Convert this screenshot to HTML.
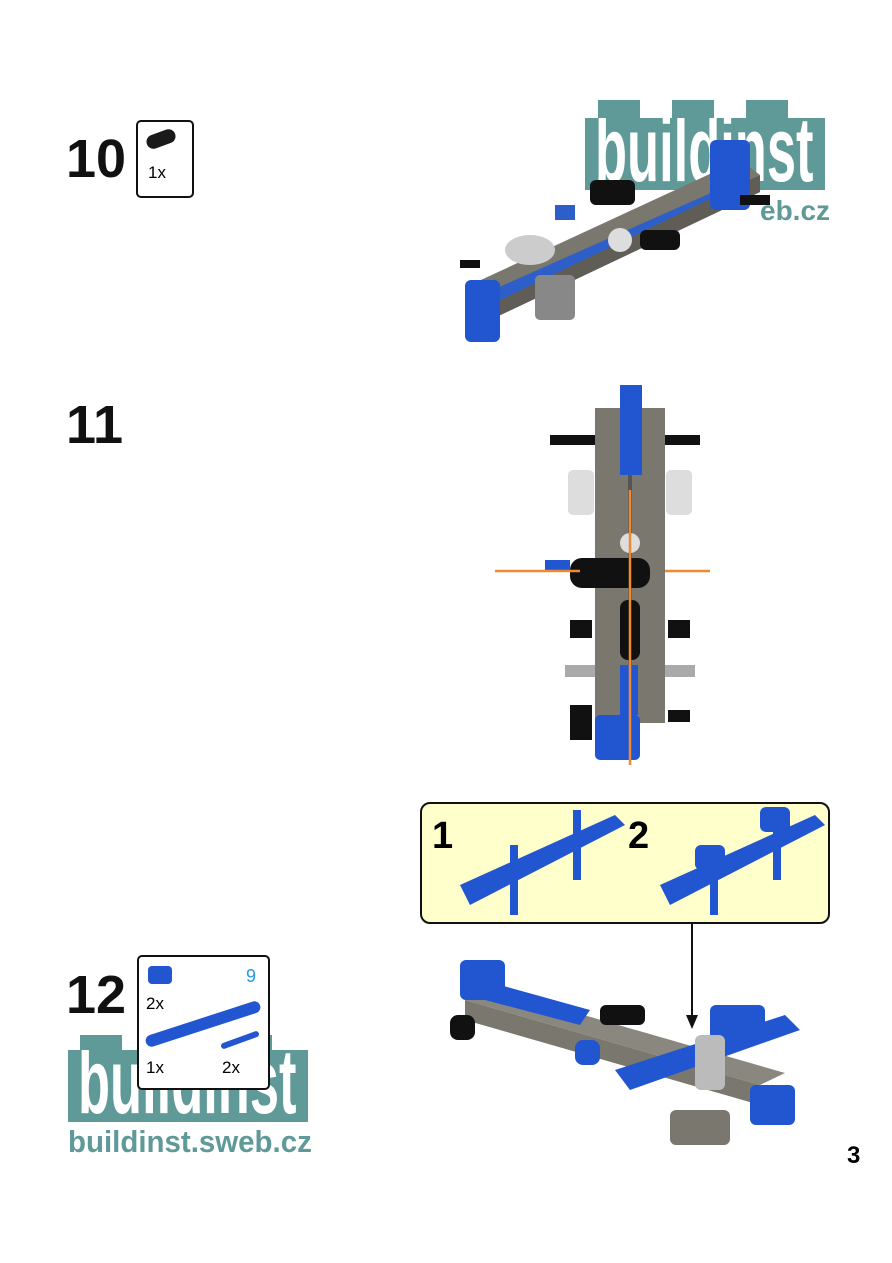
<!DOCTYPE html><html><head><style>
body{margin:0;width:892px;height:1263px;background:#fff;position:relative;overflow:hidden;font-family:"Liberation Sans",sans-serif}
.a{position:absolute}
.num{font-weight:bold;font-size:54px;color:#111;line-height:1}
.box{border:2px solid #111;border-radius:5px;background:#fff}
.logo{background:#5f9a98}
.clip{overflow:hidden}
.lt{color:#fff;font-weight:bold;line-height:1;white-space:nowrap;transform-origin:left top}
</style></head><body>
<!-- step 10 -->
<div class="a num" style="left:66px;top:132px">10</div>
<div class="a box" style="left:136px;top:120px;width:54px;height:74px"></div>
<div class="a" style="left:146px;top:132px;width:30px;height:14px;background:#1a1a1a;border-radius:7px;transform:rotate(-20deg)"></div>
<div class="a" style="left:148px;top:163px;font-size:17px">1x</div>
<!-- logo top -->
<div class="a logo" style="left:585px;top:118px;width:240px;height:72px"></div>
<div class="a logo" style="left:598px;top:100px;width:42px;height:20px"></div>
<div class="a logo" style="left:672px;top:100px;width:42px;height:20px"></div>
<div class="a logo" style="left:746px;top:100px;width:42px;height:20px"></div>
<div class="a clip" style="left:595px;top:118px;width:225px;height:72px"><div class="lt" style="font-size:92px;transform:scaleX(0.57);margin-top:-14px">buildinst</div></div>
<div class="a" style="left:760px;top:195px;font-size:28px;font-weight:bold;color:#5f9a98">eb.cz</div>
<!-- model 10 -->
<svg class="a" style="left:440px;top:120px" width="370" height="230">
<polygon points="30,165 300,40 320,55 50,185" fill="#7a786e"/>
<polygon points="30,180 300,60 320,72 50,200" fill="#2e5fc9"/>
<polygon points="50,185 320,55 320,72 50,200" fill="#5f5d55"/>
<rect x="25" y="160" width="35" height="62" rx="6" fill="#2255d0"/>
<rect x="270" y="20" width="40" height="70" rx="6" fill="#2255d0"/>
<ellipse cx="90" cy="130" rx="25" ry="15" fill="#ccc"/>
<rect x="150" y="60" width="45" height="25" rx="6" fill="#111"/>
<rect x="95" y="155" width="40" height="45" rx="5" fill="#888"/>
<circle cx="180" cy="120" r="12" fill="#ddd"/>
<rect x="200" y="110" width="40" height="20" rx="6" fill="#111"/>
<rect x="115" y="85" width="20" height="15" fill="#2e5fc9"/>
<rect x="20" y="140" width="20" height="8" fill="#111"/>
<rect x="300" y="75" width="30" height="10" fill="#111"/>
</svg>
<!-- step 11 -->
<div class="a num" style="left:66px;top:398px">11</div>
<svg class="a" style="left:490px;top:380px" width="230" height="390">
<rect x="60" y="55" width="150" height="10" fill="#111"/>
<rect x="75" y="285" width="130" height="12" fill="#aaa"/>
<rect x="105" y="28" width="70" height="315" fill="#7a786e"/>
<rect x="138" y="28" width="4" height="315" fill="#555"/>
<rect x="130" y="5" width="22" height="90" fill="#2255d0"/>
<rect x="78" y="90" width="26" height="45" rx="5" fill="#ddd"/>
<rect x="176" y="90" width="26" height="45" rx="5" fill="#ddd"/>
<rect x="80" y="240" width="22" height="18" fill="#111"/>
<rect x="178" y="240" width="22" height="18" fill="#111"/>
<rect x="80" y="325" width="22" height="35" fill="#111"/>
<rect x="178" y="330" width="22" height="12" fill="#111"/>
<rect x="130" y="285" width="18" height="50" fill="#2255d0"/>
<rect x="105" y="335" width="45" height="45" rx="5" fill="#2255d0"/>
<rect x="80" y="178" width="80" height="30" rx="12" fill="#111"/>
<rect x="55" y="180" width="25" height="12" fill="#2255d0"/>
<circle cx="140" cy="163" r="10" fill="#ddd"/>
<rect x="130" y="220" width="20" height="60" rx="8" fill="#111"/>
<line x1="5" y1="191" x2="90" y2="191" stroke="#f08a30" stroke-width="2.5"/>
<line x1="175" y1="191" x2="220" y2="191" stroke="#f08a30" stroke-width="2.5"/>
<line x1="140" y1="110" x2="140" y2="385" stroke="#f08a30" stroke-width="2.5"/>
</svg>
<!-- callout -->
<div class="a" style="left:420px;top:802px;width:406px;height:118px;background:#ffffcc;border:2px solid #111;border-radius:10px"></div>
<div class="a" style="left:432px;top:815px;font-size:38px;font-weight:bold">1</div>
<div class="a" style="left:628px;top:815px;font-size:38px;font-weight:bold">2</div>
<svg class="a" style="left:455px;top:805px" width="370" height="110">
<polygon points="5,80 160,10 170,20 15,100" fill="#2255d0"/>
<rect x="118" y="5" width="8" height="70" fill="#2255d0"/>
<rect x="55" y="40" width="8" height="70" fill="#2255d0"/>
<polygon points="205,80 360,10 370,20 215,100" fill="#2255d0"/>
<rect x="318" y="5" width="8" height="70" fill="#2255d0"/>
<rect x="255" y="40" width="8" height="70" fill="#2255d0"/>
<rect x="240" y="40" width="30" height="25" rx="6" fill="#2255d0"/>
<rect x="305" y="2" width="30" height="25" rx="6" fill="#2255d0"/>
</svg>
<div class="a" style="left:691px;top:922px;width:2px;height:98px;background:#111"></div>
<div class="a" style="left:686px;top:1015px;width:0;height:0;border-left:6px solid transparent;border-right:6px solid transparent;border-top:14px solid #111"></div>
<!-- step 12 -->
<div class="a num" style="left:66px;top:968px">12</div>
<div class="a logo" style="left:68px;top:1050px;width:240px;height:72px"></div>
<div class="a logo" style="left:80px;top:1035px;width:42px;height:20px"></div>
<div class="a logo" style="left:155px;top:1035px;width:42px;height:20px"></div>
<div class="a logo" style="left:230px;top:1035px;width:42px;height:20px"></div>
<div class="a clip" style="left:78px;top:1050px;width:225px;height:72px"><div class="lt" style="font-size:92px;transform:scaleX(0.57);margin-top:-14px">buildinst</div></div>
<div class="a" style="left:68px;top:1124px;font-size:31px;font-weight:bold;color:#5f9a98;white-space:nowrap;transform:scaleX(0.95);transform-origin:left">buildinst.sweb.cz</div>
<div class="a box" style="left:137px;top:955px;width:129px;height:131px"></div>
<div class="a" style="left:148px;top:966px;width:24px;height:18px;background:#2255d0;border-radius:4px"></div>
<div class="a" style="left:246px;top:966px;font-size:18px;color:#1e9be0">9</div>
<div class="a" style="left:146px;top:994px;font-size:17px">2x</div>
<div class="a" style="left:143px;top:1018px;width:120px;height:12px;background:#2255d0;border-radius:6px;transform:rotate(-18deg)"></div>
<div class="a" style="left:220px;top:1037px;width:40px;height:6px;background:#2255d0;border-radius:3px;transform:rotate(-20deg)"></div>
<div class="a" style="left:146px;top:1058px;font-size:17px">1x</div>
<div class="a" style="left:222px;top:1058px;font-size:17px">2x</div>
<!-- model 12 -->
<svg class="a" style="left:440px;top:955px" width="370" height="195">
<polygon points="25,45 320,130 345,118 50,33" fill="#8a887e"/>
<polygon points="25,45 320,130 320,150 25,65" fill="#7a786e"/>
<polygon points="60,30 150,55 140,70 45,45" fill="#2255d0"/>
<rect x="20" y="5" width="45" height="40" rx="6" fill="#2255d0"/>
<polygon points="175,115 345,60 360,75 190,135" fill="#2255d0"/>
<rect x="270" y="50" width="55" height="35" rx="6" fill="#2255d0"/>
<rect x="310" y="130" width="45" height="40" rx="6" fill="#2255d0"/>
<rect x="255" y="80" width="30" height="55" rx="6" fill="#bbb"/>
<rect x="160" y="50" width="45" height="20" rx="6" fill="#111"/>
<rect x="135" y="85" width="25" height="25" rx="8" fill="#2255d0"/>
<rect x="10" y="60" width="25" height="25" rx="8" fill="#111"/>
<rect x="230" y="155" width="60" height="35" rx="6" fill="#7a786e"/>
</svg>
<div class="a" style="left:847px;top:1142px;font-size:24px;font-weight:bold">3</div>
</body></html>
